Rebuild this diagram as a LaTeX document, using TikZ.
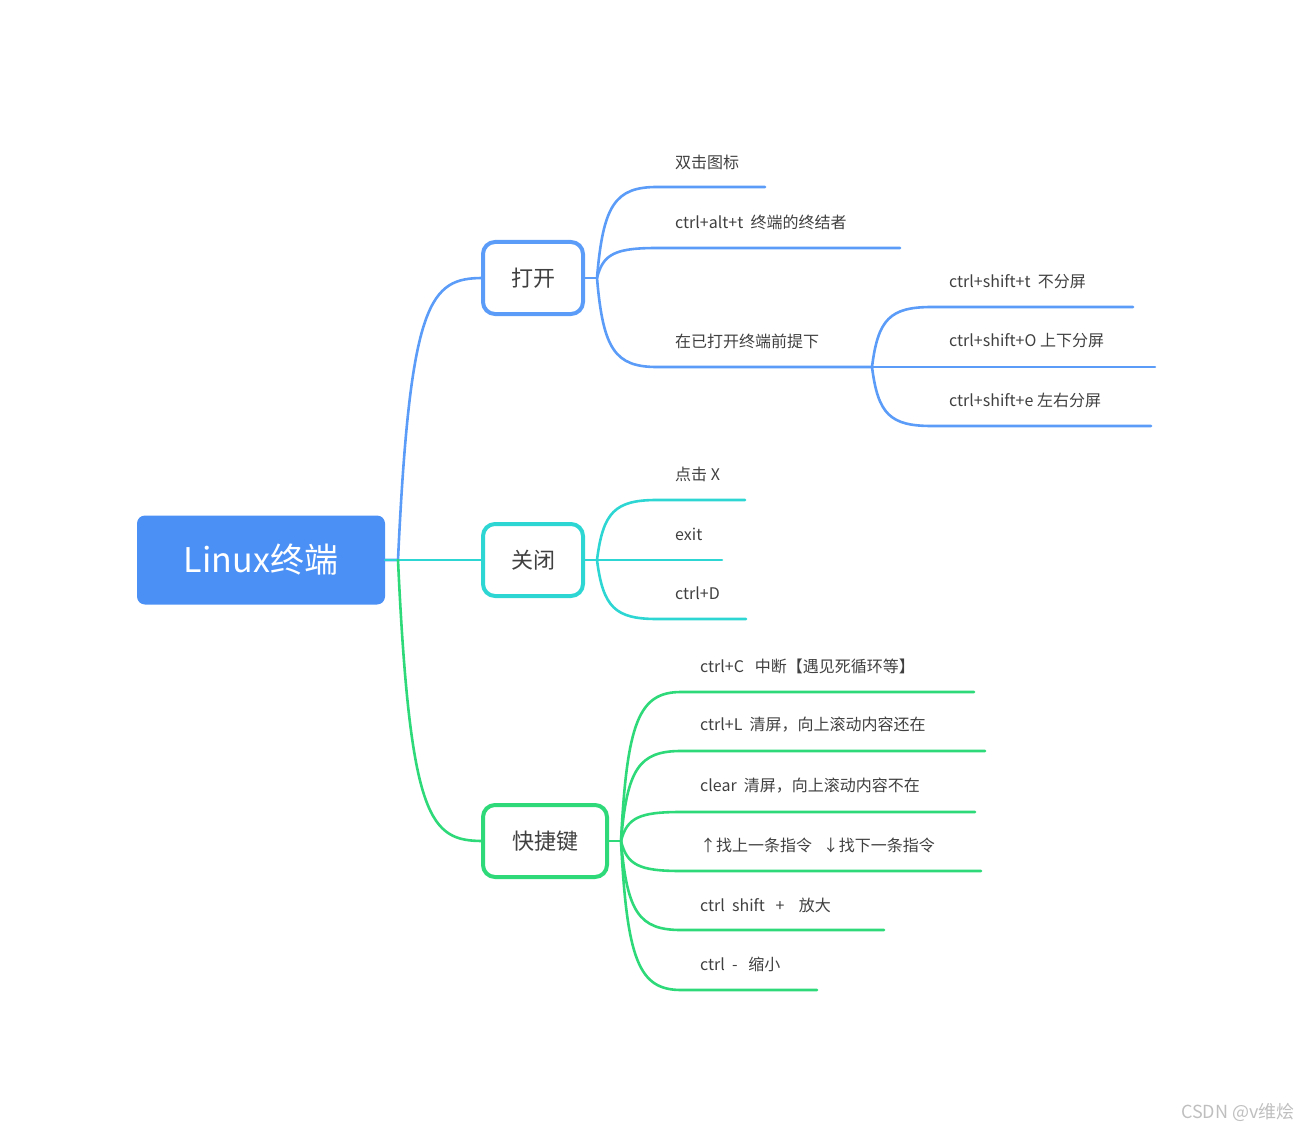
\documentclass[tikz,border=0pt]{standalone}
\usepackage{fontspec}
\setmainfont{Noto Sans CJK SC}
\definecolor{cb}{HTML}{5A9CF8}
\definecolor{cbf}{HTML}{4A90F5}
\definecolor{cc}{HTML}{2DD6D3}
\definecolor{cg}{HTML}{2ED97A}
\definecolor{tx}{HTML}{404040}
\begin{document}
\begin{tikzpicture}[x=1pt,y=-1pt,
  ln/.style={line width=2.6pt,line cap=round},
  box/.style={draw,line width=4pt,rounded corners=12pt,fill=white,text=tx,font=\fontsize{22}{26}\selectfont,minimum height=72pt,inner xsep=0pt},
  lab/.style={anchor=west,text=tx,font=\fontsize{16}{19}\selectfont,inner sep=0pt}]
\useasboundingbox (0,0) rectangle (1299,1134);
% root
\node[fill=cbf,rounded corners=8pt,minimum width=248pt,minimum height=89pt,text=white,font=\fontsize{34}{40}\selectfont] (root) at (261,560) {Linux终端};
% root connectors
\coordinate (rj) at (398,560);
\draw[ln,cb] (root.east) -- (rj) .. controls (410,300) and (430,278) .. (483,278);
\draw[ln,cc] (root.east) -- (483,560);
\draw[ln,cg] (rj) .. controls (410,820) and (430,841) .. (483,841);
\node[box,draw=cb,minimum width=100pt] (open) at (533,278) {打开};
\node[box,draw=cc,minimum width=100pt] (close) at (533,560) {关闭};
\node[box,draw=cg,minimum width=124pt] (key) at (545,841) {快捷键};
% open children
\coordinate (oj) at (597,278);
\draw[ln,cb] (open.east) -- (oj);
\foreach \y/\e in {187/765,248/900,367/872}
  \draw[ln,cb] (oj) .. controls ({597+6},{0.8*\y+0.2*278}) and ({597+18},\y) .. ({597+60},\y) -- (\e,\y);
\node[lab] (o1) at (675,162) {双击图标};
\node[lab] (o2) at (675,222) {ctrl+alt+t\ \ 终端的终结者};
\node[lab] (o3) at (675,341) {在已打开终端前提下};
\coordinate (sj) at (872,367);
\foreach \y/\e in {307/1133,367/1155,426/1151}
  \draw[ln,cb] (sj) .. controls ({872+6},{0.8*\y+0.2*367}) and ({872+18},\y) .. ({872+60},\y) -- (\e,\y);
\node[lab] (s1) at (949,282) {ctrl+shift+t\ \ 不分屏};
\node[lab] (s2) at (949,341) {ctrl+shift+O 上下分屏};
\node[lab] (s3) at (949,400) {ctrl+shift+e 左右分屏};
% close children
\coordinate (cj) at (597,560);
\draw[ln,cc] (close.east) -- (cj);
\foreach \y/\e in {500/745,560/722,619/746}
  \draw[ln,cc] (cj) .. controls ({597+6},{0.8*\y+0.2*560}) and ({597+18},\y) .. ({597+60},\y) -- (\e,\y);
\node[lab] (c1) at (675,474) {点击 X};
\node[lab] (c2) at (675,534) {exit};
\node[lab] (c3) at (675,593) {ctrl+D};
% key children
\coordinate (kj) at (621,841);
\draw[ln,cg] (key.east) -- (kj);
\foreach \y/\e in {692/974,751/985,812/975,871/981,930/884,990/817}
  \draw[ln,cg] (kj) .. controls ({621+6},{0.8*\y+0.2*841}) and ({621+18},\y) .. ({621+60},\y) -- (\e,\y);
\node[lab] (k1) at (700,666) {ctrl+C\ \ \ 中断【遇见死循环等】};
\node[lab] (k2) at (700,725) {ctrl+L\ \ 清屏，向上滚动内容还在};
\node[lab] (k3) at (700,786) {clear\ \ 清屏，向上滚动内容不在};
\node[lab] (k4) at (700,845) {↑找上一条指令\ \ \ ↓找下一条指令};
\node[lab] (k5) at (700,905) {ctrl\ \ shift\ \ \ +\ \ \ \ 放大};
\node[lab] (k6) at (700,964) {ctrl\ \ -\ \ \ 缩小};
\node[anchor=east,text=black!25,font=\fontsize{18}{22}\selectfont,inner sep=0pt] (wm) at (1295,1112) {CSDN @v维烩};
\end{tikzpicture}
\end{document}
